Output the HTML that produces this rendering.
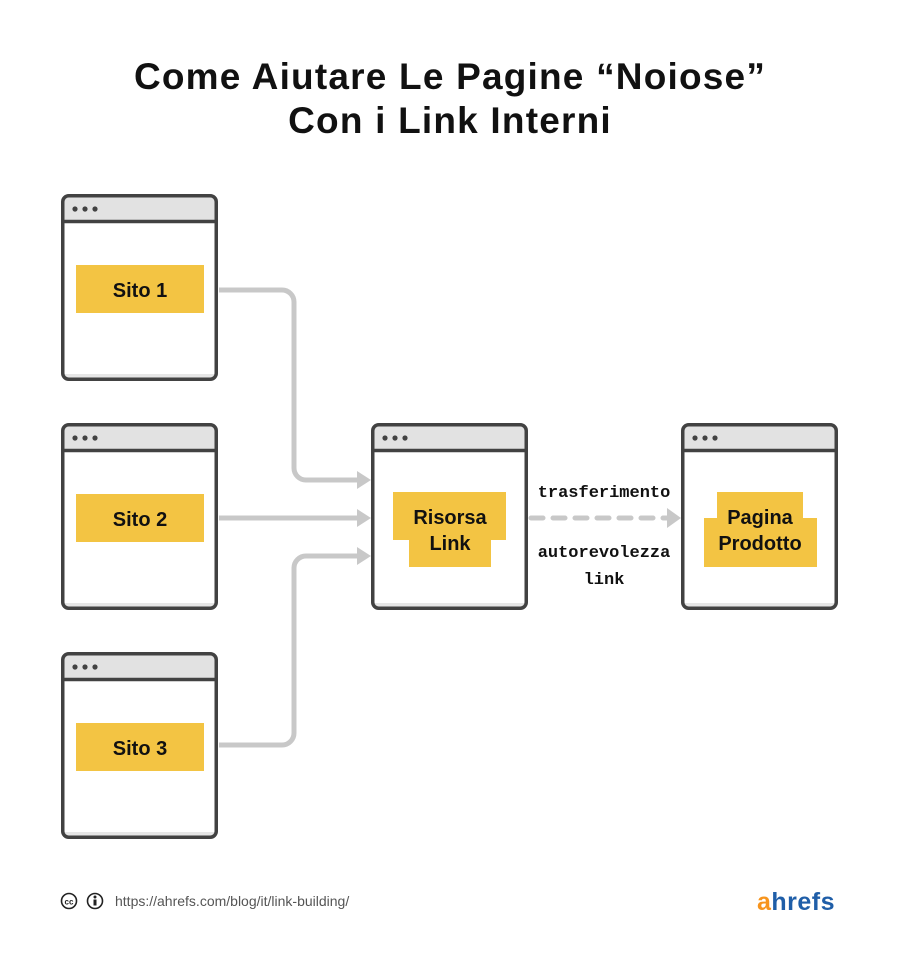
<!DOCTYPE html>
<html><head><meta charset="utf-8"><style>
body{margin:0;background:#fff;width:900px;height:972px;overflow:hidden}
svg text{font-family:"Liberation Sans",sans-serif}
</style></head><body>
<svg width="900" height="972" viewBox="0 0 900 972" xmlns="http://www.w3.org/2000/svg">
<rect width="900" height="972" fill="#fff"/>
<text x="450" y="89" text-anchor="middle" font-size="37" font-weight="bold" letter-spacing="1.2" fill="#111">Come Aiutare Le Pagine “Noiose”</text>
<text x="450" y="133" text-anchor="middle" font-size="37" font-weight="bold" letter-spacing="1.2" fill="#111">Con i Link Interni</text>

<defs>
<g id="win">
<rect x="0" y="0" width="157" height="187" rx="6" fill="#fff"/>
<path d="M2 26 V7 a5 5 0 0 1 5 -5 H150 a5 5 0 0 1 5 5 V26 Z" fill="#e2e2e2"/>
<rect x="2" y="180" width="153" height="5" fill="#e6e6e6"/>
<rect x="1.75" y="1.75" width="153.5" height="183.5" rx="6" fill="none" stroke="#424242" stroke-width="3.5"/>
<line x1="2" y1="27.5" x2="155" y2="27.5" stroke="#424242" stroke-width="3.5"/>
<circle cx="14" cy="15" r="2.6" fill="#424242"/><circle cx="24" cy="15" r="2.6" fill="#424242"/><circle cx="34" cy="15" r="2.6" fill="#424242"/>
</g>
</defs>

<g fill="none" stroke="#c8c8c8" stroke-width="5">
<path d="M219 290 H282 a12 12 0 0 1 12 12 V468 a12 12 0 0 0 12 12 H360"/>
<path d="M219 518 H360"/>
<path d="M219 745 H282 a12 12 0 0 0 12 -12 V568 a12 12 0 0 1 12 -12 H360"/>
<path d="M531 518 H668" stroke-dasharray="12 10" stroke-linecap="round"/>
</g>
<g fill="#c8c8c8">
<polygon points="357,471 371,480 357,489"/>
<polygon points="357,509 371,518 357,527"/>
<polygon points="357,547 371,556 357,565"/>
<polygon points="667,508 681,518 667,528"/>
</g>

<use href="#win" x="61" y="194"/>
<use href="#win" x="61" y="423"/>
<use href="#win" x="61" y="652"/>
<use href="#win" x="371" y="423"/>
<use href="#win" x="681" y="423"/>

<g fill="#f3c443">
<rect x="76" y="265" width="128" height="48"/>
<rect x="76" y="494" width="128" height="48"/>
<rect x="76" y="723" width="128" height="48"/>
<rect x="393" y="492" width="113" height="48"/>
<rect x="409" y="505" width="82" height="62"/>
<rect x="717" y="492" width="86" height="48"/>
<rect x="704" y="518" width="113" height="49"/>
</g>
<g font-size="20" font-weight="bold" fill="#111" text-anchor="middle">
<text x="140" y="297">Sito 1</text>
<text x="140" y="526">Sito 2</text>
<text x="140" y="755">Sito 3</text>
<text x="450" y="524">Risorsa</text>
<text x="450" y="550">Link</text>
<text x="760" y="524">Pagina</text>
<text x="760" y="550">Prodotto</text>
</g>
<g font-size="17" font-weight="bold" fill="#111" text-anchor="middle">
<text x="604" y="497" style="font-family:'Liberation Mono',monospace">trasferimento</text>
<text x="604" y="557" style="font-family:'Liberation Mono',monospace">autorevolezza</text>
<text x="604" y="584" style="font-family:'Liberation Mono',monospace">link</text>
</g>

<circle cx="69" cy="901" r="7.5" fill="none" stroke="#222" stroke-width="1.6"/>
<text x="69" y="904.5" font-size="8" font-weight="bold" text-anchor="middle" fill="#222">cc</text>
<circle cx="95" cy="901" r="7.5" fill="none" stroke="#222" stroke-width="1.6"/>
<circle cx="95" cy="897" r="1.5" fill="#222"/>
<rect x="93.5" y="899.5" width="3" height="6" fill="#222"/>
<text x="115" y="906" font-size="14" fill="#555">https://ahrefs.com/blog/it/link-building/</text>
<text x="757" y="910" font-size="25" font-weight="bold" letter-spacing="0.5" fill="#f7941d">a<tspan fill="#1f5ea8">hrefs</tspan></text>
</svg>
</body></html>
